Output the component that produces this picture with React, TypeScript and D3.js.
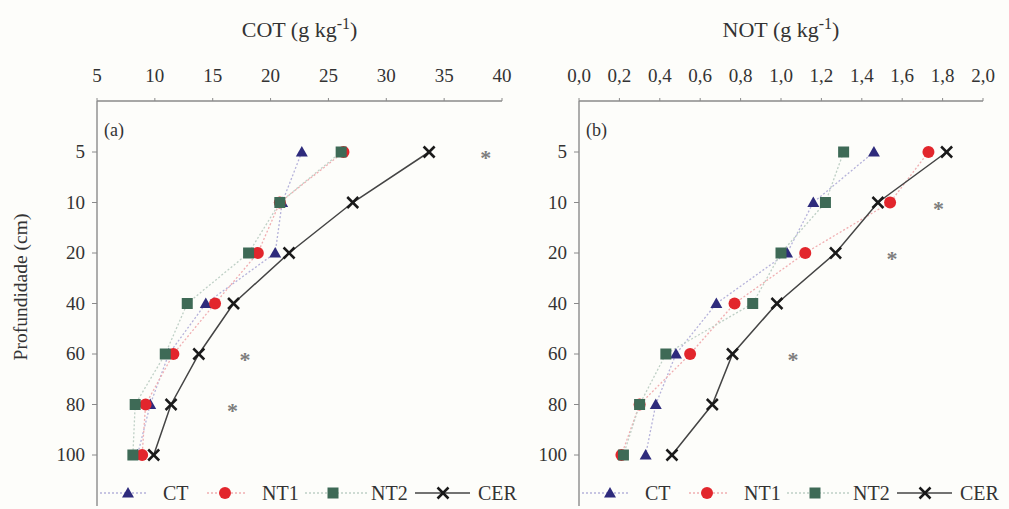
import React from "react";
import * as d3 from "d3";

const depths = ["5", "10", "20", "40", "60", "80", "100"];
const series = ["CT", "NT1", "NT2", "CER"];

// COT (g kg-1)
const cotCT = [22.7, 21.0, 20.4, 14.4, 11.2, 9.6, 8.5];
const cotNT1 = [26.3, 20.8, 18.9, 15.2, 11.6, 9.2, 8.9];
const cotNT2 = [26.1, 20.8, 18.1, 12.8, 10.9, 8.3, 8.1];
const cotCER = [33.7, 27.1, 21.6, 16.8, 13.8, 11.4, 9.9];
const cotSigDepth = ["5", "60", "80"];
const cotSigX = [38.6, 17.8, 16.7];
const cotTicks = [5, 10, 15, 20, 25, 30, 35, 40];

// NOT (g kg-1)
const notCT = [1.46, 1.16, 1.03, 0.68, 0.48, 0.38, 0.33];
const notNT1 = [1.73, 1.54, 1.12, 0.77, 0.55, 0.3, 0.21];
const notNT2 = [1.31, 1.22, 1.0, 0.86, 0.43, 0.3, 0.22];
const notCER = [1.82, 1.48, 1.27, 0.98, 0.76, 0.66, 0.46];
const notSigDepth = ["10", "20", "60"];
const notSigX = [1.78, 1.55, 1.06];
const notTicks = [0, 0.2, 0.4, 0.6, 0.8, 1.0, 1.2, 1.4, 1.6, 1.8, 2.0];

const FONT = "'Liberation Serif', 'Times New Roman', serif";
const TXT = "#333333";
const AXIS = "#8a8a8a";

const styles: Record<string, { color: string; line: string; dash: string; width: number }> = {
  CT: { color: "#2e2b7c", line: "#b5b2da", dash: "2,2", width: 1.3 },
  NT1: { color: "#e2262c", line: "#f0aeb1", dash: "2,2", width: 1.3 },
  NT2: { color: "#3e6a56", line: "#bfd0c6", dash: "2,2", width: 1.3 },
  CER: { color: "#1a1a1a", line: "#444444", dash: "", width: 1.5 },
};

function Marker({ name, x, y }: { name: string; x: number; y: number }) {
  const c = styles[name].color;
  if (name === "CT") {
    const p = d3.symbol().type(d3.symbolTriangle).size(62)();
    return <path d={p || ""} transform={`translate(${x},${y + 1})`} fill={c} />;
  }
  if (name === "NT1") {
    return <circle cx={x} cy={y} r={6} fill={c} />;
  }
  if (name === "NT2") {
    return <rect x={x - 5.5} y={y - 5.5} width={11} height={11} fill={c} />;
  }
  const s = 5.5;
  return (
    <g stroke={c} strokeWidth={2.5}>
      <line x1={x - s} y1={y - s} x2={x + s} y2={y + s} />
      <line x1={x - s} y1={y + s} x2={x + s} y2={y - s} />
    </g>
  );
}

function Panel(props: {
  x0: number;
  x1: number;
  domain: [number, number];
  ticks: number[];
  fmt: (v: number) => string;
  data: Record<string, number[]>;
  sigDepth: string[];
  sigX: number[];
  tag: string;
  title: string;
}) {
  const { x0, x1, domain, ticks, fmt, data, sigDepth, sigX, tag, title } = props;
  const top = 101;
  const bottom = 509;
  const x = d3.scaleLinear().domain(domain).range([x0, x1]);
  const y = d3.scalePoint<string>().domain(depths).range([152, 455]);
  const lineGen = d3
    .line<number>()
    .x((d) => x(d))
    .y((_, i) => y(depths[i]) as number);
  return (
    <g>
      {/* title */}
      <text x={(x0 + x1) / 2} y={37} textAnchor="middle" fontFamily={FONT} fontSize={22} fill={TXT}>
        {title} (g kg<tspan dy={-8} fontSize={16}>-1</tspan>
        <tspan dy={8}>)</tspan>
      </text>
      {/* top axis */}
      <line x1={x0} x2={x1} y1={top} y2={top} stroke={AXIS} strokeWidth={1.4} />
      {ticks.map((t) => (
        <g key={t}>
          <line x1={x(t)} x2={x(t)} y1={top} y2={top - 3} stroke={AXIS} />
          <text x={x(t)} y={top - 19} textAnchor="middle" fontFamily={FONT} fontSize={19} fill={TXT}>
            {fmt(t)}
          </text>
        </g>
      ))}
      {/* left axis */}
      <line x1={x0} x2={x0} y1={top} y2={bottom - 3} stroke={AXIS} strokeWidth={1.4} />
      {depths.map((d) => (
        <g key={d}>
          <line x1={x0 - 5} x2={x0} y1={y(d)} y2={y(d)} stroke={AXIS} />
          <text
            x={x0 - 12}
            y={(y(d) as number) + 6}
            textAnchor="end"
            fontFamily={FONT}
            fontSize={19}
            fill={TXT}
          >
            {d}
          </text>
        </g>
      ))}
      <text x={x0 + 7} y={136} fontFamily={FONT} fontSize={18} fill={TXT}>
        {tag}
      </text>
      {/* lines */}
      {series.map((s) => (
        <path
          key={s}
          d={lineGen(data[s]) || ""}
          fill="none"
          stroke={styles[s].line}
          strokeWidth={styles[s].width}
          strokeDasharray={styles[s].dash}
        />
      ))}
      {/* markers */}
      {series.map((s) =>
        data[s].map((v, i) => <Marker key={s + i} name={s} x={x(v)} y={y(depths[i]) as number} />)
      )}
      {/* significance */}
      {sigDepth.map((d, i) => (
        <text
          key={d}
          x={x(sigX[i])}
          y={(y(d) as number) + 13}
          textAnchor="middle"
          fontFamily={FONT}
          fontSize={22}
          fontWeight="bold"
          fill="#7d7d7d"
        >
          *
        </text>
      ))}
    </g>
  );
}

function Legend({ x0 }: { x0: number }) {
  const y = 493;
  const items = [
    { name: "CT", lx1: x0 + 3, lx2: x0 + 50, mx: x0 + 31, tx: x0 + 66 },
    { name: "NT1", lx1: x0 + 110, lx2: x0 + 150, mx: x0 + 128, tx: x0 + 165 },
    { name: "NT2", lx1: x0 + 208, lx2: x0 + 270, mx: x0 + 236, tx: x0 + 274 },
    { name: "CER", lx1: x0 + 318, lx2: x0 + 373, mx: x0 + 346, tx: x0 + 381 },
  ];
  return (
    <g>
      {items.map((it) => (
        <g key={it.name}>
          <line
            x1={it.lx1}
            x2={it.lx2}
            y1={y}
            y2={y}
            stroke={styles[it.name].line}
            strokeWidth={styles[it.name].width}
            strokeDasharray={styles[it.name].dash}
          />
          <Marker name={it.name} x={it.mx} y={y} />
          <text x={it.tx} y={y + 7} fontFamily={FONT} fontSize={20} fill={TXT}>
            {it.name}
          </text>
        </g>
      ))}
    </g>
  );
}

export default function App() {
  const cot: Record<string, number[]> = { CT: cotCT, NT1: cotNT1, NT2: cotNT2, CER: cotCER };
  const not: Record<string, number[]> = { CT: notCT, NT1: notNT1, NT2: notNT2, CER: notCER };
  return (
    <svg
      width={1009}
      height={509}
      style={{ position: "absolute", left: 0, top: 0, background: "#fdfdfa" }}
    >
      <rect width={1009} height={509} fill="#fdfdfa" />
      <text
        transform="translate(27,287) rotate(-90)"
        textAnchor="middle"
        fontFamily={FONT}
        fontSize={19.5}
        fill={TXT}
      >
        Profundidade (cm)
      </text>
      <Panel
        x0={97}
        x1={502}
        domain={[5, 40]}
        ticks={cotTicks}
        fmt={(v) => String(v)}
        data={cot}
        sigDepth={cotSigDepth}
        sigX={cotSigX}
        tag="(a)"
        title="COT"
      />
      <Panel
        x0={579}
        x1={983}
        domain={[0, 2]}
        ticks={notTicks}
        fmt={(v) => v.toFixed(1).replace(".", ",")}
        data={not}
        sigDepth={notSigDepth}
        sigX={notSigX}
        tag="(b)"
        title="NOT"
      />
      <Legend x0={97} />
      <Legend x0={579} />
    </svg>
  );
}
